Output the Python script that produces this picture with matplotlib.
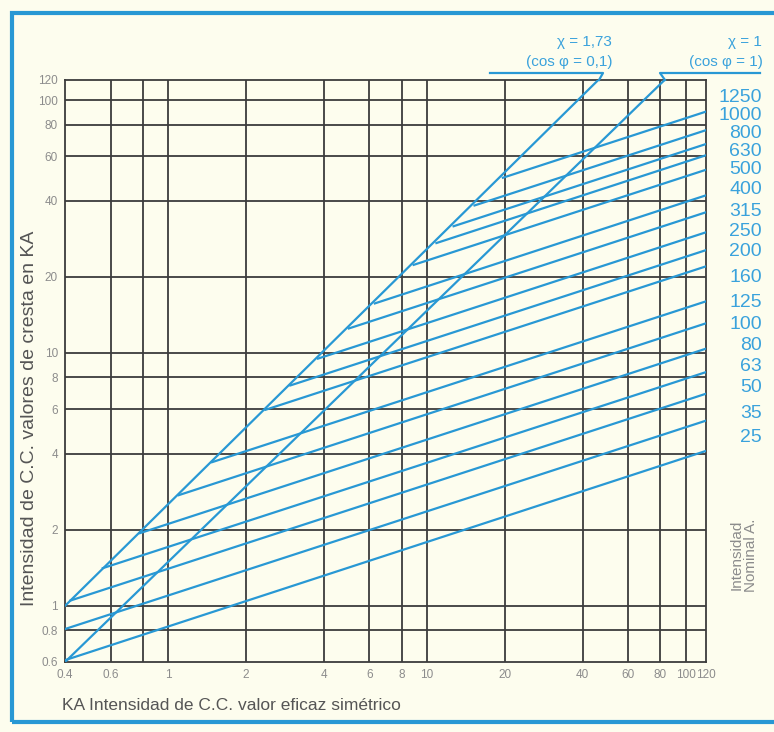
import matplotlib
matplotlib.use("Agg")
import matplotlib.pyplot as plt
from matplotlib.lines import Line2D
from matplotlib.patches import Rectangle

# fuse ratings (A) and their cut-off lines: start point on the chi=1.73 line
# (or on the left edge) and peak value at 120 kA prospective current
ratings = [25, 35, 50, 63, 80, 100, 125, 160, 200, 250, 315, 400, 500, 630, 800, 1000, 1250]
start_ka = [0.4, 0.4, 0.42, 0.56, 0.78, 1.1, 1.48, 2.38, 2.97, 3.8, 5.0, 6.3, 8.9, 10.9, 12.7, 15.3, 19.7]
start_peak = [0.61, 0.81, 1.05, 1.41, 1.94, 2.74, 3.7, 5.96, 7.44, 9.5, 12.5, 15.7, 22.3, 27.2, 31.7, 38.3, 49.3]
end_peak = [4.1, 5.4, 6.9, 8.4, 10.4, 13.1, 16, 22, 25.5, 30, 36, 42, 53, 60.5, 67, 76, 90]

# limit lines (no current limitation)
chi173_x = [0.4, 46]
chi173_y = [1.0, 120]
chi1_x = [0.4, 83]
chi1_y = [0.6, 120]

xticks = [0.4, 0.6, 0.8, 1, 2, 4, 6, 8, 10, 20, 40, 60, 80, 100, 120]
xlabels = ['0.4', '0.6', '', '1', '2', '4', '6', '8', '10', '20', '40', '60', '80', '100', '120']
yticks = [0.6, 0.8, 1, 2, 4, 6, 8, 10, 20, 40, 60, 80, 100, 120]
ylabels = ['0.6', '0.8', '1', '2', '4', '6', '8', '10', '20', '40', '60', '80', '100', '120']

# vertical pixel position of the rating labels on the right
label_ypx = [437, 414, 388, 367, 345, 324, 303, 277, 251, 232, 212, 190, 170, 152, 134, 116, 98]

W, H = 774, 732
bg = '#fdfdee'
blue = '#2898d4'
lblue = '#3aa2dc'
grid = '#3c3c3c'
grey = '#8c8c8c'

plt.rcParams['font.family'] = ['Liberation Sans', 'DejaVu Sans']

fig = plt.figure(figsize=(W / 100, H / 100), dpi=100, facecolor=bg)
ax = fig.add_axes([65 / W, 1 - 662 / H, (706 - 65) / W, (662 - 80) / H])
ax.set_facecolor(bg)
ax.set_xscale('log')
ax.set_yscale('log')
ax.set_xlim(0.4, 120)
ax.set_ylim(0.6, 120)

ax.set_xticks(xticks)
ax.set_xticklabels(xlabels)
ax.set_yticks(yticks)
ax.set_yticklabels(ylabels)
ax.minorticks_off()
ax.tick_params(length=0, labelsize=8.5, labelcolor=grey, pad=5)
for v in xticks[1:-1]:
    ax.axvline(v, color=grid, lw=1.3, zorder=1)
for v in yticks[1:-1]:
    ax.axhline(v, color=grid, lw=1.3, zorder=1)
for s in ax.spines.values():
    s.set_color(grid)
    s.set_linewidth(1.3)

# limit lines
ax.plot(chi173_x, chi173_y, color=blue, lw=1.6, zorder=3, solid_capstyle='round')
ax.plot(chi1_x, chi1_y, color=blue, lw=1.6, zorder=3, solid_capstyle='round')

# cut-off lines
for x0, y0, y1 in zip(start_ka, start_peak, end_peak):
    ax.plot([x0, 120], [y0, y1], color=blue, lw=1.6, zorder=3)

def px(x, y):
    return x / W, 1 - y / H

# leaders to the chi labels
for pts in ([(490, 73), (603, 73), (599, 80)], [(760, 73), (660, 73), (665, 80)]):
    xs, ys = zip(*[px(*p) for p in pts])
    fig.add_artist(Line2D(xs, ys, color=blue, lw=1.6, transform=fig.transFigure))

fig.text(*px(612, 42), 'χ = 1,73', color=lblue, fontsize=11, ha='right', va='center')
fig.text(*px(612, 62), '(cos φ = 0,1)', color=lblue, fontsize=11, ha='right', va='center')
fig.text(*px(762, 42), 'χ = 1', color=lblue, fontsize=11, ha='right', va='center')
fig.text(*px(763, 62), '(cos φ = 1)', color=lblue, fontsize=11, ha='right', va='center')

# rating labels
for r, ypx in zip(ratings, label_ypx):
    fig.text(*px(762, ypx), str(r), color=lblue, fontsize=14, ha='right', va='center')

fig.text(*px(744, 555), 'Intensidad\nNominal A.', color=grey, fontsize=11,
         rotation=90, ha='center', va='center', linespacing=1.0)

fig.text(*px(62, 705), 'KA Intensidad de C.C. valor eficaz simétrico', color='#555555',
         fontsize=12.5, ha='left', va='center')
fig.text(*px(30, 418), 'Intensidad de C.C. valores de cresta en KA', color='#555555',
         fontsize=14, rotation=90, ha='center', va='center')

# blue frame
fig.add_artist(Rectangle(px(12, 722), (800 - 12) / W, (722 - 13) / H, transform=fig.transFigure,
                         fill=False, edgecolor=blue, lw=3))

fig.savefig('out.png', dpi=100, facecolor=bg)
